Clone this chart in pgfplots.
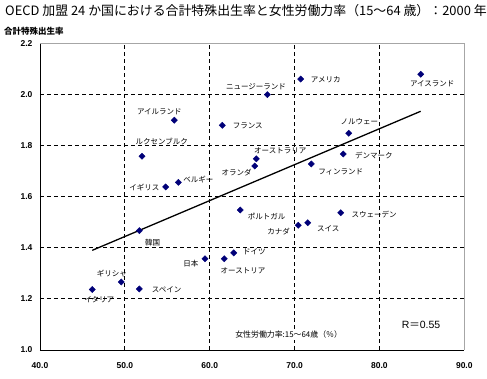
\documentclass[border=0pt]{standalone}
\usepackage{fontspec}
\setmainfont{Liberation Sans}
\newfontfamily\jp{Noto Sans CJK JP}
\usepackage{pgfplots}
\usepackage{pgfplotstable}
\pgfplotsset{compat=1.18}
\definecolor{navy}{RGB}{0,0,120}

\pgfplotstableread{
x y dx dy label
55.83 1.899 -15.0 8.6 アイルランド
61.48 1.879 25.4 -0.4 フランス
52.02 1.758 19.7 15.3 ルクセンブルク
54.81 1.638 -21.4 -0.7 イギリス
56.30 1.656 20.0 2.3 ベルギー
65.49 1.748 24.0 8.0 オーストラリア
65.30 1.720 -18.0 -6.3 オランダ
70.72 2.060 25.0 -0.7 アメリカ
66.79 1.999 -11.3 8.4 ニュージーランド
84.86 2.079 11.6 -9.4 アイスランド
76.38 1.848 10.6 11.6 ノルウェー
75.74 1.767 30.7 -2.0 デンマーク
71.97 1.728 29.4 -8.3 フィンランド
51.70 1.467 13.4 -12.0 韓国
63.60 1.548 26.4 -6.3 ポルトガル
59.44 1.357 -14.0 -4.6 日本
61.72 1.357 18.7 -11.6 オーストリア
62.83 1.380 20.6 1.0 ドイツ
49.58 1.266 -9.3 8.0 ギリシャ
46.16 1.237 7.0 -10.0 イタリア
51.70 1.239 27.4 -0.3 スペイン
75.44 1.537 33.3 -2.0 スウェーデン
70.44 1.488 -19.6 -6.0 カナダ
71.55 1.498 20.6 -6.0 スイス
}\datatable

\pgfplotstableread{
x y
46.16 1.390
84.86 1.934
}\regline

\begin{document}
\begin{tikzpicture}
\useasboundingbox (0,0) rectangle (487pt,379pt);
\node[anchor=west, inner sep=0pt, font=\jp\fontsize{12.9}{14}\selectfont] at (5pt,368pt) {OECD 加盟 24 か国における合計特殊出生率と女性労働力率（15～64 歳）：2000 年};
\node[anchor=west, inner sep=0pt, font=\jp\bfseries\fontsize{8.5}{10}\selectfont] at (4pt,348pt) {合計特殊出生率};
\begin{axis}[
  at={(40pt,29pt)}, anchor=south west,
  scale only axis, width=424.3pt, height=306.7pt,
  xmin=40, xmax=90, ymin=1, ymax=2.2,
  xtick={40,50,60,70,80,90},
  ytick={1.0,1.2,1.4,1.6,1.8,2.0,2.2},
  minor xtick={50,60,70,80},
  minor ytick={1.2,1.4,1.6,1.8,2.0},
  xminorgrids=true, yminorgrids=true,
  minor grid style={black, line width=0.8pt, dash pattern=on 4pt off 3pt},
  major tick length=0pt, minor tick length=0pt,
  axis lines*=left,
  axis line style={-, black, line width=0.9pt},
  /pgf/number format/assume math mode=true,
  /pgf/number format/.cd, fixed, fixed zerofill, precision=1, /pgfplots/.cd,
  tick label style={font=\bfseries\fontsize{8.5}{10}\selectfont},
  xticklabel style={yshift=-9pt},
  yticklabel style={xshift=-4pt, yshift=0pt},
  xlabel={女性労働力率:15～64歳（％）},
  xlabel style={at={(axis cs:69.3,1.059)}, anchor=center, fill=white, inner sep=1pt, font=\jp\fontsize{7.9}{9}\selectfont},
  clip=false,
  after end axis/.code={
    \draw[gray!70, line width=0.9pt] (rel axis cs:0,1) -- (rel axis cs:1,1) -- (rel axis cs:1,0);
  },
]
\addplot[black, line width=1.3pt] table[x=x,y=y] {\regline};
\addplot[only marks, mark=square*, mark size=2.2pt,
  mark options={rotate=45, fill=navy, draw=navy},
  nodes near coords, point meta=explicit symbolic,
  visualization depends on={\thisrow{dx} \as \dx},
  visualization depends on={\thisrow{dy} \as \dy},
  every node near coord/.append style={anchor=center, xshift=\dx pt, yshift=\dy pt, inner sep=0pt, text=black, font=\jp\fontsize{7.5}{9}\selectfont},
] table[x=x, y=y, meta=label] {\datatable};
\node[font=\fontsize{10.5}{12}\selectfont] at (axis cs:84.9,1.098) {R{\jp ＝}0.55};
\end{axis}
\end{tikzpicture}
\end{document}
